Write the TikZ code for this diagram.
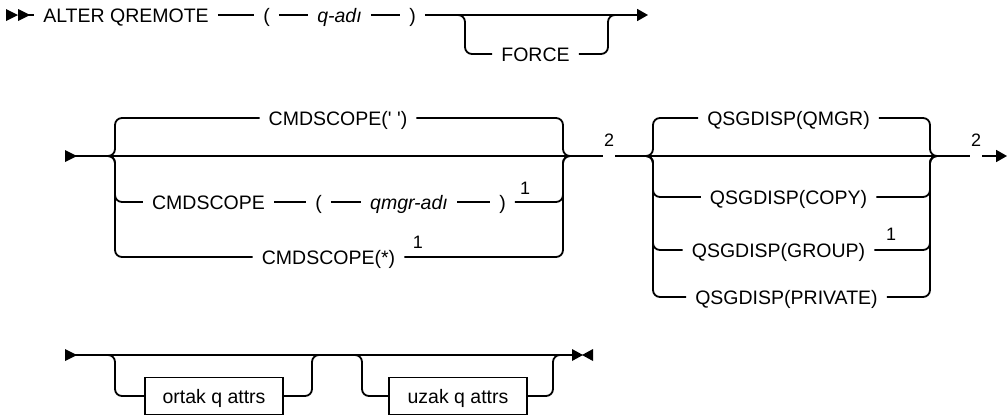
\documentclass[tikz,border=0pt]{standalone}
\usepackage{fontspec}
\newfontfamily\railfont{Liberation Sans}
\usetikzlibrary{arrows.meta}

\begin{document}
\begin{tikzpicture}[
        x=1pt, y=-1pt,
        rail/.style={line width=1.8pt, rounded corners=7pt},
        tok/.style={inner xsep=9pt, inner ysep=0pt, text height=14pt, text depth=0pt, font=\railfont\fontsize{19.5}{22}\selectfont},
        note/.style={inner xsep=1pt, inner ysep=0pt, font=\railfont\fontsize{18}{20}\selectfont},
        box/.style={tok, draw, line width=1.6pt, minimum height=37pt, minimum width=138pt},
        headin/.pic={\fill (0,-6) -- (12,0) -- (0,6) -- cycle;},
        headend/.pic={\fill (0,-6) -- (11,0) -- (0,6) -- cycle; \fill (21,-6) -- (10,0) -- (21,6) -- cycle;},
        >={Triangle[length=11pt, width=12pt]}
    ]
        \useasboundingbox (0,0) rectangle (1007,415);

        % first line
        \coordinate (in1) at (6,15);
        \coordinate (f1l) at (465,15);
        \coordinate (f1r) at (608,15);
        \coordinate (out1) at (648,15);
        \node[tok] (alter) at (126,15) {ALTER QREMOTE};
        \node[tok] (lp1) at (266.5,15) {(};
        \node[tok] (qa) at (339.5,15) {\itshape q-adı};
        \node[tok] (rp1) at (412.5,15) {)};
        \node[tok] (force) at (535.5,54) {FORCE};

        \pic at (in1) {headin};
        \pic at ([xshift=12]in1) {headin};
        \draw[rail] ([xshift=20]in1) -- (alter.west);
        \draw[rail] (alter.east) -- (lp1.west);
        \draw[rail] (lp1.east) -- (qa.west);
        \draw[rail] (qa.east) -- (rp1.west);
        \draw[rail, ->] (rp1.east) -- (out1);
        \draw[rail] ([xshift=-6]f1l) -| (f1l |- force) -- (force.west);
        \draw[rail] (force.east) -| (f1r) -- ([xshift=6]f1r);

        % second line
        \coordinate (in2) at (65,156);
        \coordinate (g1l) at (115,156);
        \coordinate (g1r) at (563,156);
        \coordinate (g2l) at (653,156);
        \coordinate (g2r) at (930,156);
        \coordinate (out2) at (1007,156);
        \node[tok] (cs1) at (338,118) {CMDSCOPE(' ')};
        \node[tok] (cm2) at (208.5,202) {CMDSCOPE};
        \node[tok] (lp2) at (318.5,202) {(};
        \node[tok] (qm) at (409,202) {\itshape qmgr-adı};
        \node[tok] (rp2) at (502.5,202) {)};
        \node[tok] (cs3) at (328.5,257) {CMDSCOPE(*)};
        \node[tok] (qs1) at (788.5,118) {QSGDISP(QMGR)};
        \node[tok] (qs2) at (788.5,197) {QSGDISP(COPY)};
        \node[tok] (qs3) at (778.5,250) {QSGDISP(GROUP)};
        \node[tok] (qs4) at (786.5,297) {QSGDISP(PRIVATE)};
        \node[note] (fn1a) at (525,188) {1};
        \node[note] (fn1b) at (418,242) {1};
        \node[note] (fn1c) at (891,234) {1};
        \node[note] (fn2a) at (609,140) {2};
        \node[note] (fn2b) at (976,140) {2};

        \pic at (in2) {headin};
        \draw[rail] (in2) -- (fn2a.west |- in2);
        \draw[rail] (fn2a.east |- in2) -- (fn2b.west |- in2);
        \draw[rail, ->] (fn2b.east |- in2) -- (out2);
        \foreach \n in {cs1, cm2, cs3}
            \draw[rail] ([xshift=-8]g1l) -| (g1l |- \n) -- (\n.west);
        \foreach \n in {cs1, rp2, cs3}
            \draw[rail] (\n.east) -| (g1r) -- ([xshift=8]g1r);
        \draw[rail] (cm2.east) -- (lp2.west);
        \draw[rail] (lp2.east) -- (qm.west);
        \draw[rail] (qm.east) -- (rp2.west);
        \foreach \n in {qs1, qs2, qs3, qs4} {
            \draw[rail] ([xshift=-7]g2l) -| (g2l |- \n) -- (\n.west);
            \draw[rail] (\n.east) -| (g2r) -- ([xshift=7]g2r);
        }

        % third line
        \coordinate (in3) at (65,355);
        \coordinate (b1l) at (115,355);
        \coordinate (b1r) at (312,355);
        \coordinate (b2l) at (362,355);
        \coordinate (b2r) at (553,355);
        \coordinate (out3) at (572,355);
        \node[box] (oq) at (214,396) {ortak q attrs};
        \node[box] (uq) at (458,396) {uzak q attrs};

        \pic at (in3) {headin};
        \draw[rail] (in3) -- (out3);
        \pic at (out3) {headend};
        \draw[rail] ([xshift=-7]b1l) -| (b1l |- oq) -- (oq.west);
        \draw[rail] (oq.east) -| (b1r) -- ([xshift=7]b1r);
        \draw[rail] ([xshift=-7]b2l) -| (b2l |- uq) -- (uq.west);
        \draw[rail] (uq.east) -| (b2r) -- ([xshift=7]b2r);
    \end{tikzpicture}
\end{document}
